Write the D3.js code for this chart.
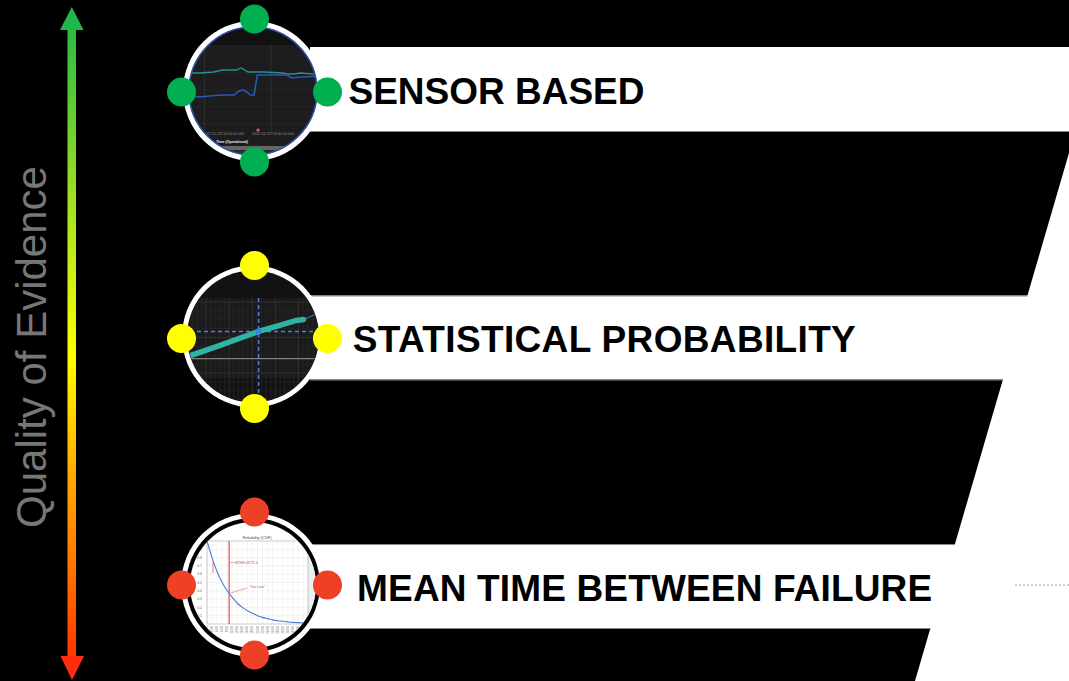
<!DOCTYPE html>
<html>
<head>
<meta charset="utf-8">
<script src="https://cdn.jsdelivr.net/npm/d3@7"></script>
<style>
  body { margin: 0; background: #000; }
  svg { display: block; }
</style>
</head>
<body>
<svg id="chart"></svg>
<script>
// levels, best evidence first
const categories = ["SENSOR BASED", "STATISTICAL PROBABILITY", "MEAN TIME BETWEEN FAILURE"];
const axisTitle = "Quality of Evidence";

// thumbnail 1: sensor traces (minute, value)
const sensorTeal = [[0,67],[6,67],[12,68],[16,70],[22,70],[24,72],[27,68],[34,68],[42,67],[44,66],[47,66],[50,67],[60,65]];
const sensorBlue = [[0,45],[6,43],[10,44],[16,45],[21,45],[23,49],[25,50],[27,47],[28,45],[29.6,45],[31,65],[41,65],[44,65],[46,62],[50,63],[60,64]];
const sensorGrid = [16, 33, 50, 67, 84];
const sensorTimes = [8, 37];
const sensorLabels = ["2022-10-25T16:00:00.000", "2022-10-25T16:45:00.000"];

// thumbnail 2: probability plot (log time, z)
const statFit = [[0,-0.9],[2.6,-0.38],[5.4,0.21],[6.9,0.46],[8.1,0.67],[8.6,0.71]];
const statRef = [[8.6,0.71],[10,1.05]];
const statMark = [5.4, 0.21];

// thumbnail 3: reliability curve (hours, R)
const mtbfHours = [0,2000,4000,6000,8000,10000,12000,14000,16000,18000,20000,22000,24000,26000,28000,30000,32000,34000,36000,38000,40000];
const mtbfRel = [1,0.8,0.63,0.5,0.4,0.32,0.25,0.2,0.16,0.13,0.1,0.08,0.065,0.05,0.04,0.033,0.026,0.02,0.017,0.013,0.01];
const mtbfValue = 8771;
const relTicks = [0.1,0.2,0.3,0.4,0.5,0.6,0.7,0.8,0.9];

const W = 1069, H = 681;
const dotColors = ["#00b050", "#ffff00", "#ee4024"];
const labelWidths = [296, 503, 575];
const font = "'Liberation Sans', Arial, sans-serif";

const svg = d3.select("#chart").attr("width", W).attr("height", H);
svg.append("rect").attr("width", W).attr("height", H).attr("fill", "#000");

const defs = svg.append("defs");
const grad = defs.append("linearGradient").attr("id", "qgrad")
  .attr("gradientUnits", "userSpaceOnUse")
  .attr("x1", 0).attr("y1", 10).attr("x2", 0).attr("y2", 675);
[[0,"#1fb54b"],[0.33,"#b5e61d"],[0.52,"#ffff00"],[0.7,"#ffaa00"],[0.84,"#ff7400"],[1,"#ff2a00"]]
  .forEach(s => grad.append("stop").attr("offset", s[0]).attr("stop-color", s[1]));

const rowY = d3.scalePoint().domain(categories).range([89, 586]);
const cx = 253;
const slant = y => 1069 - (y - 153) * 0.2917;

// white field right of the slanted edge
svg.append("polygon")
  .attr("points", [[1069,153],[1069,H],[slant(H),H]].join(" "))
  .attr("fill", "#fff");

// white bands
svg.selectAll("rect.band").data(categories).enter().append("rect")
  .attr("class", "band")
  .attr("x", cx + 57).attr("y", d => rowY(d) - 42)
  .attr("width", W - cx - 57).attr("height", 84)
  .attr("fill", "#fff");

// grey edges of the black bands
const edges = [];
categories.forEach((d, i) => {
  edges.push(rowY(d) + 42);
  if (i > 0) edges.push(rowY(d) - 42);
});
svg.selectAll("line.edge").data(edges).enter().append("line")
  .attr("x1", cx + 57).attr("x2", d => Math.min(W, slant(d)))
  .attr("y1", d => d + 0.5).attr("y2", d => d + 0.5)
  .attr("stroke", "#8a8a8a").attr("stroke-width", 1);

svg.append("line")
  .attr("x1", 1015).attr("x2", W).attr("y1", 585).attr("y2", 585)
  .attr("stroke", "#cfcfcf").attr("stroke-width", 2).attr("stroke-dasharray", "2,2");

// quality arrow
svg.append("rect").attr("x", 67.5).attr("y", 26).attr("width", 8.5).attr("height", 632)
  .attr("fill", "url(#qgrad)");
svg.append("path").attr("d", "M71.8,7 L83.5,30 L60,30 Z").attr("fill", "#1fb84a");
svg.append("path").attr("d", "M72,680 L84,656 L60.5,656 Z").attr("fill", "#ff2d0c");

svg.append("text")
  .attr("transform", "translate(46,347) rotate(-90)")
  .attr("text-anchor", "middle")
  .attr("font-family", font).attr("font-size", 42)
  .attr("fill", "#777").text(axisTitle);

// labels
svg.selectAll("text.lvl").data(categories).enter().append("text")
  .attr("class", "lvl")
  .attr("x", (d, i) => 348.5 + i * 4.3).attr("y", d => rowY(d) + 14.5)
  .attr("textLength", (d, i) => labelWidths[i]).attr("lengthAdjust", "spacing")
  .attr("font-family", font).attr("font-weight", "bold").attr("font-size", 37)
  .attr("fill", "#000").text(d => d);

function clip(id, r) {
  defs.append("clipPath").attr("id", id).append("circle").attr("r", r);
  return "url(#" + id + ")";
}

// ---- thumbnail 1: sensor based
{
  const g = svg.append("g").attr("transform", `translate(${cx},${rowY(categories[0]) + 2})`);
  g.append("circle").attr("r", 70).attr("fill", "#fff");
  g.append("circle").attr("r", 64.5).attr("fill", "#1d1d1f");
  const c = g.append("g").attr("clip-path", clip("c1", 64));
  c.append("rect").attr("x", -70).attr("y", -70).attr("width", 140).attr("height", 24).attr("fill", "#111");
  const x = d3.scaleLinear().domain([0, 60]).range([-67, 71]);
  const y = d3.scaleLinear().domain([0, 100]).range([49, -51]);
  c.selectAll("line.h").data(sensorGrid).enter().append("line")
    .attr("x1", -70).attr("x2", 70).attr("y1", d => y(d)).attr("y2", d => y(d))
    .attr("stroke", "#2a2a2c").attr("stroke-width", 0.8);
  c.selectAll("line.v").data(sensorTimes).enter().append("line")
    .attr("x1", d => x(d)).attr("x2", d => x(d)).attr("y1", -46).attr("y2", 40)
    .attr("stroke", "#333336").attr("stroke-width", 0.8);
  const line = d3.line().x(d => x(d[0])).y(d => y(d[1]));
  c.append("path").attr("d", line(sensorTeal)).attr("fill", "none")
    .attr("stroke", "#2a8f88").attr("stroke-width", 1.3);
  c.append("path").attr("d", line(sensorBlue)).attr("fill", "none")
    .attr("stroke", "#2a58b4").attr("stroke-width", 1.6);
  c.selectAll("text.t").data(sensorLabels).enter().append("text")
    .attr("x", (d, i) => x(sensorTimes[i]) + [19, 2][i]).attr("y", 44)
    .attr("text-anchor", "middle").attr("font-family", font).attr("font-size", 3.6)
    .attr("fill", "#8a8a8a").text(d => d);
  c.append("circle").attr("cx", 5).attr("cy", 39).attr("r", 1.6).attr("fill", "#e05a75");
  c.append("text").attr("x", -21).attr("y", 52).attr("text-anchor", "middle")
    .attr("font-family", font).attr("font-size", 3.6).attr("font-weight", "bold")
    .attr("fill", "#eee").text("Time (Operational)");
  c.append("rect").attr("x", -70).attr("y", 55).attr("width", 140).attr("height", 4).attr("fill", "#666");
  c.append("rect").attr("x", -70).attr("y", 59).attr("width", 140).attr("height", 12).attr("fill", "#2a2a2a");
  g.append("circle").attr("r", 64).attr("fill", "none").attr("stroke", "#2d52a8").attr("stroke-width", 1.5);
}

// ---- thumbnail 2: statistical probability
{
  const g = svg.append("g").attr("transform", `translate(${cx},${rowY(categories[1]) - 1})`);
  g.append("circle").attr("r", 71).attr("fill", "#fff");
  g.append("circle").attr("r", 66).attr("fill", "#121212");
  const c = g.append("g").attr("clip-path", clip("c2", 65.5));
  const x = d3.scaleLinear().domain([0, 10]).range([-70, 70]);
  const y = d3.scaleLinear().domain([-3, 3]).range([72, -72]);
  c.append("rect").attr("x", -70).attr("y", y(1.6)).attr("width", 140).attr("height", 80).attr("fill", "#1b1b1b");
  c.selectAll("line.v").data(d3.range(0, 10.01, 0.33)).enter().append("line")
    .attr("x1", d => x(d)).attr("x2", d => x(d)).attr("y1", y(1.6)).attr("y2", 72)
    .attr("stroke", (d, i) => i % 5 === 0 ? "#3a3a3a" : "#272727").attr("stroke-width", 0.7);
  c.selectAll("line.h").data(d3.range(-3, 1.6, 0.37)).enter().append("line")
    .attr("x1", -70).attr("x2", 70).attr("y1", d => y(d)).attr("y2", d => y(d))
    .attr("stroke", (d, i) => i % 4 === 0 ? "#3a3a3a" : "#272727").attr("stroke-width", 0.7);
  c.append("line").attr("x1", -70).attr("x2", 70).attr("y1", y(-0.92)).attr("y2", y(-0.92))
    .attr("stroke", "#808080").attr("stroke-width", 1.2);
  c.append("line").attr("x1", x(statMark[0])).attr("x2", x(statMark[0])).attr("y1", y(1.6)).attr("y2", 72)
    .attr("stroke", "#4a80e0").attr("stroke-width", 1.5).attr("stroke-dasharray", "4,3");
  c.append("line").attr("x1", -70).attr("x2", x(9.8)).attr("y1", y(statMark[1])).attr("y2", y(statMark[1]))
    .attr("stroke", "#4a80e0").attr("stroke-width", 1.5).attr("stroke-dasharray", "4,3");
  const line = d3.line().x(d => x(d[0])).y(d => y(d[1]));
  c.append("path").attr("d", line(statRef)).attr("fill", "none")
    .attr("stroke", "#3f72d8").attr("stroke-width", 1);
  c.append("path").attr("d", line(statFit)).attr("fill", "none")
    .attr("stroke", "#2fb3a3").attr("stroke-width", 5.5).attr("stroke-linecap", "round");
  c.append("circle").attr("cx", x(statMark[0])).attr("cy", y(statMark[1])).attr("r", 3).attr("fill", "#3b7ff0");
}

// ---- thumbnail 3: mean time between failure
{
  const g = svg.append("g").attr("transform", `translate(${cx},${rowY(categories[2]) - 1})`);
  g.append("circle").attr("r", 72).attr("fill", "#fff");
  g.append("circle").attr("r", 67).attr("fill", "#000");
  g.append("circle").attr("r", 63).attr("fill", "#fff");
  const c = g.append("g").attr("clip-path", clip("c3", 63));
  const x = d3.scaleLinear().domain([0, 40000]).range([-46, 55]);
  const y = d3.scaleLinear().domain([0, 1]).range([39, -44]);
  c.append("rect").attr("x", 55).attr("y", -70).attr("width", 20).attr("height", 140).attr("fill", "#eceef1");
  c.selectAll("line.gv").data(mtbfHours).enter().append("line")
    .attr("x1", d => x(d)).attr("x2", d => x(d)).attr("y1", y(1)).attr("y2", y(0))
    .attr("stroke", "#e6e6e6").attr("stroke-width", 0.5);
  c.selectAll("line.gh").data(relTicks).enter().append("line")
    .attr("x1", x(0)).attr("x2", x(40000)).attr("y1", d => y(d)).attr("y2", d => y(d))
    .attr("stroke", "#e6e6e6").attr("stroke-width", 0.5);
  c.append("rect").attr("x", x(0)).attr("y", y(1)).attr("width", x(40000) - x(0)).attr("height", y(0) - y(1))
    .attr("fill", "none").attr("stroke", "#aaa").attr("stroke-width", 0.6);
  c.append("text").attr("x", 4).attr("y", y(1) - 2.5).attr("text-anchor", "middle")
    .attr("font-family", font).attr("font-size", 4).attr("fill", "#444").text("Reliability (CDF)");
  c.selectAll("text.yt").data(relTicks).enter().append("text")
    .attr("x", x(0) - 5).attr("y", d => y(d) + 1.2).attr("text-anchor", "end")
    .attr("font-family", font).attr("font-size", 3.4).attr("fill", "#666").text(d => d);
  c.selectAll("text.xt").data(mtbfHours).enter().append("text")
    .attr("transform", d => `translate(${x(d) + 1},${y(0) + 2}) rotate(-90)`)
    .attr("text-anchor", "end").attr("font-family", font).attr("font-size", 2.8)
    .attr("fill", "#888").text(d => d);
  c.append("line").attr("x1", x(mtbfValue)).attr("x2", x(mtbfValue)).attr("y1", y(1)).attr("y2", y(0))
    .attr("stroke", "#d9534f").attr("stroke-width", 1.2);
  c.append("line").attr("x1", -40).attr("x2", -40).attr("y1", -23).attr("y2", -12)
    .attr("stroke", "#e06060").attr("stroke-width", 0.8);
  const line = d3.line().x((d, i) => x(mtbfHours[i])).y(d => y(d)).curve(d3.curveMonotoneX);
  c.append("path").attr("d", line(mtbfRel)).attr("fill", "none")
    .attr("stroke", "#4a7fd8").attr("stroke-width", 1.1);
  c.append("text").attr("x", x(mtbfValue) + 6).attr("y", -21)
    .attr("font-family", font).attr("font-size", 3.6).attr("fill", "#e04a4a")
    .text("MTBF=8771 h");
  c.append("line").attr("x1", x(mtbfValue) + 5.5).attr("x2", x(mtbfValue) + 1).attr("y1", -22.5).attr("y2", -22.5)
    .attr("stroke", "#e04a4a").attr("stroke-width", 0.5);
  c.append("text").attr("x", x(mtbfValue) + 20).attr("y", 3)
    .attr("font-family", font).attr("font-size", 3.6).attr("fill", "#e04a4a")
    .text("\u201CToo Late\u201D");
  c.append("line").attr("x1", x(mtbfValue) + 18).attr("x2", x(mtbfValue) + 1.5).attr("y1", 3).attr("y2", 8)
    .attr("stroke", "#e04a4a").attr("stroke-width", 0.5);
}

// colour dots around each thumbnail
categories.forEach((cat, i) => {
  const yc = rowY(cat) + [2, 0, -2][i];
  const pts = [[0, -72], [0, 71], [-73, 1], [73, 1]];
  svg.selectAll("circle.dot" + i).data(pts).enter().append("circle")
    .attr("cx", d => cx + 1.5 + d[0]).attr("cy", d => yc + d[1])
    .attr("r", 14.5).attr("fill", dotColors[i]);
});
</script>
</body>
</html>
